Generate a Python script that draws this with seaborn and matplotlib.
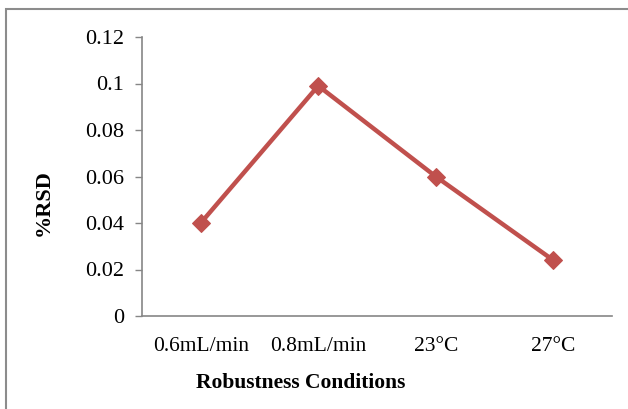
import matplotlib
matplotlib.use("Agg")
import matplotlib.pyplot as plt
import seaborn as sns
import pandas as pd
import numpy as np
from matplotlib.patches import Rectangle

conditions = ["0.6mL/min", "0.8mL/min", "23°C", "27°C"]
rsd = [0.040, 0.099, 0.060, 0.024]
yticks = [0, 0.02, 0.04, 0.06, 0.08, 0.1, 0.12]
ytick_labels = ["0", "0.02", "0.04", "0.06", "0.08", "0.1", "0.12"]

sns.set_theme(style="white")
plt.rcParams["font.family"] = ["Liberation Serif", "DejaVu Serif"]
plt.rcParams["text.color"] = "black"
plt.rcParams["axes.labelcolor"] = "black"

df = pd.DataFrame({"Condition": conditions, "RSD": rsd})

fig = plt.figure(figsize=(6.28, 4.09), dpi=100)
ax = fig.add_axes([142/628, 1-316/409, (612-142)/628, (316-37)/409])

red = "#C0504D"
sns.lineplot(data=df, x="Condition", y="RSD", ax=ax, color=red, linewidth=3.2,
             marker="D", markersize=9, markeredgecolor=red, markerfacecolor=red, sort=False)

grey = "#868686"
ax.set_xlim(-0.5, len(conditions) - 0.5)
ax.set_ylim(0, 0.12)
ax.set_yticks(yticks)
ax.set_yticklabels(ytick_labels, fontsize=16, color="black")
ax.set_xticks(range(len(conditions)))
ax.set_xticklabels(conditions, fontsize=15.5, color="black")
ax.set_xticks(np.arange(-0.5, len(conditions), 1.0), minor=True)
ax.tick_params(axis="x", which="major", length=0, pad=15)
ax.tick_params(axis="x", which="minor", length=5, color=grey, width=1, direction="out")
ax.tick_params(axis="y", which="major", length=5, color=grey, width=1, direction="out", pad=8)
ax.tick_params(axis="both", bottom=True, left=True)
for s in ["top", "right"]:
    ax.spines[s].set_visible(False)
for s in ["left", "bottom"]:
    ax.spines[s].set_color(grey)
    ax.spines[s].set_linewidth(1.2)

ax.set_xlabel("Robustness Conditions", fontsize=15.5, fontweight="bold", color="black")
ax.set_ylabel("%RSD", fontsize=16, fontweight="bold", color="black")
ax.xaxis.set_label_coords((301 - 142) / 470, -(383 - 316) / 279)
ax.xaxis.label.set_va("center")
ax.yaxis.set_label_coords(-(142 - 44) / 470, (316 - 203) / 279)
ax.yaxis.label.set_va("center")

fig.patches.append(Rectangle((6/628, -0.1), 1.2, 1.1 - 9/409, transform=fig.transFigure,
                             fill=False, edgecolor="#8c8c8c", linewidth=1.5, zorder=10))

fig.savefig("out.png", dpi=100, facecolor="white")
